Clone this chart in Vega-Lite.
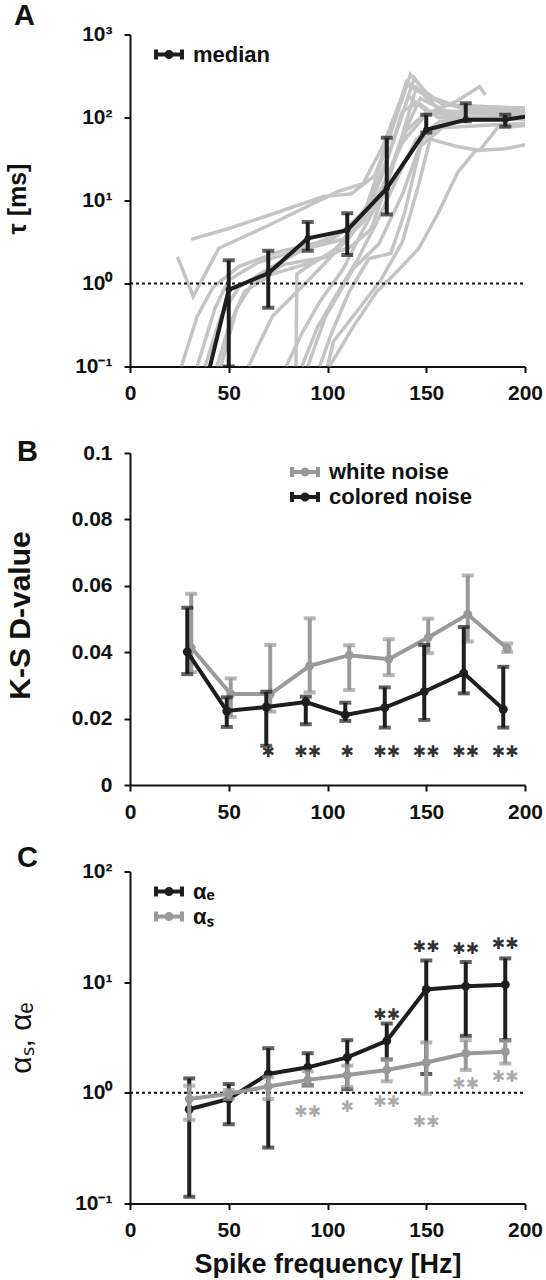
{
  "$schema": "https://vega.github.io/schema/vega-lite/v6.json",
  "padding": {"left": 5, "top": 1.5, "right": 0, "bottom": 0},
  "bounds": "flush",
  "spacing": 86.5,
  "resolve": {"scale": {"color": "independent"}, "legend": {"color": "independent"}},
  "config": {
    "font": "Liberation Sans",
    "view": {"stroke": null},
    "axis": {
      "grid": false, "domainColor": "#111", "domainWidth": 2, "tickColor": "#111", "tickWidth": 2, "tickSize": 6,
      "labelFont": "Liberation Sans", "labelFontWeight": "bold", "labelFontSize": 21, "labelColor": "#111",
      "titleColor": "#111", "titleFont": "Liberation Sans", "labelFlush": false, "labelOverlap": false
    },
    "axisX": {"labelPadding": 10, "labelAngle": 0},
    "axisY": {"labelPadding": 12},
    "legend": {
      "labelFont": "Liberation Sans", "labelFontWeight": "bold", "labelFontSize": 22, "labelColor": "#111",
      "symbolStrokeWidth": 4, "symbolSize": 400, "symbolOpacity": 1, "labelOffset": 12, "padding": 0, "rowPadding": -1,
      "symbolType": "M-1.3,0H1.3M-1.3,-0.5V0.5M1.3,-0.5V0.5M-0.25,0a0.25,0.25 0 1,0 0.5,0a0.25,0.25 0 1,0 -0.5,0"
    },
    "title": {"font": "Liberation Sans", "fontSize": 29, "fontWeight": "bold", "color": "#111", "anchor": "start", "frame": "group", "offset": 0, "baseline": "alphabetic"}
  },
  "datasets": {
    "tauCurves": [
      {"c":1,"f":31,"t":3.4},{"c":1,"f":50,"t":4.6},{"c":1,"f":70,"t":6.6},{"c":1,"f":98,"t":11.2},{"c":1,"f":112,"t":12},{"c":1,"f":124,"t":20},{"c":1,"f":134,"t":90},{"c":1,"f":142,"t":330},{"c":1,"f":150,"t":200},{"c":1,"f":158,"t":145},{"c":1,"f":175,"t":130},{"c":1,"f":200,"t":125},
      {"c":2,"f":24,"t":2.1},{"c":2,"f":32,"t":0.7},{"c":2,"f":45,"t":2.66},{"c":2,"f":70,"t":5},{"c":2,"f":105,"t":12.8},{"c":2,"f":118,"t":16},{"c":2,"f":128,"t":45},{"c":2,"f":140,"t":250},{"c":2,"f":147,"t":200},{"c":2,"f":160,"t":140},{"c":2,"f":200,"t":130},
      {"c":3,"f":26,"t":0.1},{"c":3,"f":34,"t":0.4},{"c":3,"f":42,"t":0.9},{"c":3,"f":55,"t":1.6},{"c":3,"f":75,"t":2.4},{"c":3,"f":95,"t":3.1},{"c":3,"f":112,"t":4.6},{"c":3,"f":124,"t":12},{"c":3,"f":136,"t":80},{"c":3,"f":144,"t":300},{"c":3,"f":152,"t":170},{"c":3,"f":170,"t":125},{"c":3,"f":200,"t":120},
      {"c":4,"f":34,"t":0.1},{"c":4,"f":43,"t":0.5},{"c":4,"f":50,"t":1.1},{"c":4,"f":65,"t":1.8},{"c":4,"f":85,"t":2.5},{"c":4,"f":108,"t":3.4},{"c":4,"f":120,"t":8},{"c":4,"f":131,"t":35},{"c":4,"f":141,"t":180},{"c":4,"f":150,"t":120},{"c":4,"f":170,"t":100},{"c":4,"f":200,"t":105},
      {"c":5,"f":46,"t":0.1},{"c":5,"f":54,"t":0.5},{"c":5,"f":62,"t":1.0},{"c":5,"f":78,"t":1.7},{"c":5,"f":100,"t":2.1},{"c":5,"f":114,"t":4.5},{"c":5,"f":127,"t":18},{"c":5,"f":138,"t":120},{"c":5,"f":146,"t":150},{"c":5,"f":156,"t":100},{"c":5,"f":200,"t":95},
      {"c":6,"f":44,"t":0.1},{"c":6,"f":50,"t":0.3},{"c":6,"f":58,"t":0.8},{"c":6,"f":72,"t":1.3},{"c":6,"f":92,"t":1.8},{"c":6,"f":112,"t":2.8},{"c":6,"f":122,"t":4.5},{"c":6,"f":133,"t":25},{"c":6,"f":145,"t":230},{"c":6,"f":158,"t":115},{"c":6,"f":200,"t":110},
      {"c":7,"f":79,"t":0.1},{"c":7,"f":87,"t":0.25},{"c":7,"f":96,"t":0.6},{"c":7,"f":108,"t":1.5},{"c":7,"f":117,"t":4},{"c":7,"f":127,"t":11},{"c":7,"f":138,"t":60},{"c":7,"f":147,"t":170},{"c":7,"f":160,"t":120},{"c":7,"f":180,"t":115},{"c":7,"f":200,"t":115},
      {"c":8,"f":84,"t":0.1},{"c":8,"f":84.5,"t":1.3},{"c":8,"f":90,"t":1.6},{"c":8,"f":104,"t":2.6},{"c":8,"f":118,"t":5.5},{"c":8,"f":129,"t":16},{"c":8,"f":140,"t":70},{"c":8,"f":150,"t":115},{"c":8,"f":175,"t":100},{"c":8,"f":200,"t":100},
      {"c":9,"f":87,"t":0.1},{"c":9,"f":95,"t":0.3},{"c":9,"f":104,"t":0.7},{"c":9,"f":115,"t":1.9},{"c":9,"f":125,"t":5.5},{"c":9,"f":135,"t":18},{"c":9,"f":145,"t":55},{"c":9,"f":157,"t":90},{"c":9,"f":180,"t":95},{"c":9,"f":200,"t":100},
      {"c":10,"f":96,"t":0.1},{"c":10,"f":102,"t":0.25},{"c":10,"f":111,"t":0.8},{"c":10,"f":121,"t":2},{"c":10,"f":132,"t":2.3},{"c":10,"f":139,"t":7},{"c":10,"f":147,"t":45},{"c":10,"f":158,"t":75},{"c":10,"f":178,"t":80},{"c":10,"f":200,"t":85},
      {"c":11,"f":101,"t":0.1},{"c":11,"f":113,"t":0.3},{"c":11,"f":125,"t":0.8},{"c":11,"f":134,"t":1.3},{"c":11,"f":146,"t":2.6},{"c":11,"f":156,"t":7},{"c":11,"f":166,"t":22},{"c":11,"f":175,"t":40},{"c":11,"f":190,"t":42},{"c":11,"f":200,"t":47},
      {"c":12,"f":100,"t":0.1},{"c":12,"f":103,"t":0.2},{"c":12,"f":116,"t":0.5},{"c":12,"f":127,"t":1.1},{"c":12,"f":138,"t":3.2},{"c":12,"f":146,"t":15},{"c":12,"f":152,"t":55},{"c":12,"f":165,"t":45},{"c":12,"f":177,"t":40},{"c":12,"f":186,"t":75},{"c":12,"f":200,"t":80},
      {"c":13,"f":60,"t":0.1},{"c":13,"f":72,"t":0.4},{"c":13,"f":92,"t":1.2},{"c":13,"f":112,"t":3.8},{"c":13,"f":126,"t":12},{"c":13,"f":138,"t":50},{"c":13,"f":150,"t":110},{"c":13,"f":166,"t":160},{"c":13,"f":177,"t":236},{"c":13,"f":180,"t":187},
      {"c":14,"f":90,"t":0.1},{"c":14,"f":99,"t":0.4},{"c":14,"f":113,"t":1.5},{"c":14,"f":126,"t":3},{"c":14,"f":138,"t":12},{"c":14,"f":148,"t":55},{"c":14,"f":160,"t":90},{"c":14,"f":178,"t":95},{"c":14,"f":200,"t":110},
      {"c":15,"f":38,"t":0.1},{"c":15,"f":46,"t":0.4},{"c":15,"f":55,"t":0.9},{"c":15,"f":68,"t":1.4},{"c":15,"f":84,"t":2.3},{"c":15,"f":104,"t":3.6},{"c":15,"f":119,"t":7.5},{"c":15,"f":130,"t":45},{"c":15,"f":140,"t":270},{"c":15,"f":149,"t":190},{"c":15,"f":164,"t":140},{"c":15,"f":200,"t":128}
    ],
    "tauMedian": [
      {"s":"median","f":40.5,"t":0.1,"lo":null,"hi":null},
      {"s":"median","f":50,"t":0.84,"lo":0.1,"hi":1.9},
      {"s":"median","f":70,"t":1.33,"lo":0.51,"hi":2.48},
      {"s":"median","f":90,"t":3.5,"lo":2.48,"hi":5.5},
      {"s":"median","f":110,"t":4.4,"lo":2.2,"hi":7.0},
      {"s":"median","f":130,"t":14,"lo":6.8,"hi":57},
      {"s":"median","f":150,"t":71,"lo":66,"hi":108},
      {"s":"median","f":170,"t":94,"lo":90,"hi":149},
      {"s":"median","f":190,"t":94,"lo":78,"hi":108},
      {"s":"median","f":200,"t":102,"lo":null,"hi":null}
    ],
    "ks": [
      {"s":"white noise","f":31,"d":0.0414,"lo":0.034,"hi":0.0576},
      {"s":"white noise","f":51,"d":0.0274,"lo":0.0205,"hi":0.0321},
      {"s":"white noise","f":71,"d":0.0274,"lo":0.0221,"hi":0.0422},
      {"s":"white noise","f":91,"d":0.0359,"lo":0.0279,"hi":0.0502},
      {"s":"white noise","f":111,"d":0.0391,"lo":0.0286,"hi":0.0421},
      {"s":"white noise","f":131,"d":0.0379,"lo":0.0331,"hi":0.0439},
      {"s":"white noise","f":151,"d":0.0444,"lo":0.0397,"hi":0.0501},
      {"s":"white noise","f":171,"d":0.0514,"lo":0.0432,"hi":0.0631},
      {"s":"white noise","f":191,"d":0.0411,"lo":0.0401,"hi":0.0426},
      {"s":"colored noise","f":29,"d":0.0401,"lo":0.0334,"hi":0.0534},
      {"s":"colored noise","f":49,"d":0.0223,"lo":0.0175,"hi":0.0264},
      {"s":"colored noise","f":69,"d":0.0235,"lo":0.0118,"hi":0.0281},
      {"s":"colored noise","f":89,"d":0.025,"lo":0.0183,"hi":0.0266},
      {"s":"colored noise","f":109,"d":0.0211,"lo":0.0193,"hi":0.0248},
      {"s":"colored noise","f":129,"d":0.0233,"lo":0.0173,"hi":0.0294},
      {"s":"colored noise","f":149,"d":0.0281,"lo":0.0196,"hi":0.0422},
      {"s":"colored noise","f":169,"d":0.0337,"lo":0.0276,"hi":0.0476},
      {"s":"colored noise","f":189,"d":0.0228,"lo":0.0173,"hi":0.0356}
    ],
    "ksStars": [
      {"f":70,"d":0.0098,"m":"✱"},{"f":90,"d":0.0098,"m":"✱✱"},{"f":110,"d":0.0098,"m":"✱"},
      {"f":130,"d":0.0098,"m":"✱✱"},{"f":150,"d":0.0098,"m":"✱✱"},{"f":170,"d":0.0098,"m":"✱✱"},{"f":190,"d":0.0098,"m":"✱✱"}
    ],
    "alpha": [
      {"s":"αₑ","f":30,"a":0.71,"lo":0.115,"hi":1.35},
      {"s":"αₑ","f":50,"a":0.88,"lo":0.52,"hi":1.2},
      {"s":"αₑ","f":70,"a":1.48,"lo":0.32,"hi":2.53},
      {"s":"αₑ","f":90,"a":1.7,"lo":1.17,"hi":2.28},
      {"s":"αₑ","f":110,"a":2.09,"lo":1.08,"hi":2.99},
      {"s":"αₑ","f":130,"a":2.95,"lo":2.0,"hi":4.23},
      {"s":"αₑ","f":150,"a":8.6,"lo":1.48,"hi":15.7},
      {"s":"αₑ","f":170,"a":9.2,"lo":3.27,"hi":15.2},
      {"s":"αₑ","f":190,"a":9.5,"lo":3.0,"hi":16.4},
      {"s":"αₛ","f":30,"a":0.88,"lo":0.57,"hi":1.16},
      {"s":"αₛ","f":50,"a":0.98,"lo":0.88,"hi":1.06},
      {"s":"αₛ","f":70,"a":1.14,"lo":0.88,"hi":1.38},
      {"s":"αₛ","f":90,"a":1.31,"lo":1.16,"hi":1.56},
      {"s":"αₛ","f":110,"a":1.45,"lo":1.13,"hi":1.76},
      {"s":"αₛ","f":130,"a":1.61,"lo":1.27,"hi":2.02},
      {"s":"αₛ","f":150,"a":1.88,"lo":0.98,"hi":2.85},
      {"s":"αₛ","f":170,"a":2.27,"lo":1.61,"hi":2.99},
      {"s":"αₛ","f":190,"a":2.35,"lo":1.84,"hi":2.95}
    ],
    "alphaStars": [
      {"g":"dark","f":130,"a":5.1,"m":"✱✱"},{"g":"dark","f":150,"a":21,"m":"✱✱"},{"g":"dark","f":170,"a":20,"m":"✱✱"},{"g":"dark","f":190,"a":22,"m":"✱✱"},
      {"g":"light","f":90,"a":0.67,"m":"✱✱"},{"g":"light","f":110,"a":0.74,"m":"✱"},{"g":"light","f":130,"a":0.83,"m":"✱✱"},
      {"g":"light","f":150,"a":0.55,"m":"✱✱"},{"g":"light","f":170,"a":1.2,"m":"✱✱"},{"g":"light","f":190,"a":1.38,"m":"✱✱"}
    ]
  },
  "vconcat": [
    {
      "width": 395, "height": 332,
      "title": {"text": "A", "dx": -116, "dy": 11},
      "layer": [
        {
          "data": {"name": "tauCurves"},
          "mark": {"type": "line", "color": "#c4c4c4", "strokeWidth": 3.5, "clip": true},
          "encoding": {
            "x": {"field": "f", "type": "quantitative", "scale": {"domain": [0, 200]}, "axis": {"values": [0, 50, 100, 150, 200], "title": null}},
            "y": {"field": "t", "type": "quantitative", "scale": {"type": "log", "domain": [0.1, 1000]},
                  "axis": {"values": [0.1, 1, 10, 100, 1000], "title": "τ [ms]", "titleFontSize": 25, "titleFontWeight": "bold", "titleAngle": -90, "titleX": -105, "titleY": 164, "titleBaseline": "alphabetic", "titleAlign": "center",
                           "labelExpr": "datum.value >= 999 ? '10³' : datum.value >= 99 ? '10²' : datum.value >= 9 ? '10¹' : datum.value >= 0.9 ? '10⁰' : '10⁻¹'"}},
            "detail": {"field": "c", "type": "nominal"}
          }
        },
        {
          "data": {"values": [{"one": 1}]},
          "mark": {"type": "rule", "color": "#111", "strokeWidth": 2, "strokeDash": [3, 3]},
          "encoding": {"y": {"field": "one", "type": "quantitative"}, "x": {"datum": 0}, "x2": {"datum": 200}}
        },
        {
          "data": {"name": "tauMedian"},
          "encoding": {
            "x": {"field": "f", "type": "quantitative"},
            "color": {"field": "s", "type": "nominal", "scale": {"domain": ["median"], "range": ["#1e1e1e"]},
                      "legend": {"orient": "none", "legendX": 27, "legendY": 8, "title": null}}
          },
          "layer": [
            {"mark": {"type": "line", "strokeWidth": 4, "clip": true}, "encoding": {"y": {"field": "t", "type": "quantitative"}}},
            {"transform": [{"filter": "datum.lo != null"}], "mark": {"type": "rule", "strokeWidth": 4, "clip": true}, "encoding": {"y": {"field": "lo", "type": "quantitative"}, "y2": {"field": "hi"}}},
            {"transform": [{"filter": "datum.lo != null"}], "mark": {"type": "tick", "orient": "horizontal", "size": 12, "thickness": 4, "clip": true}, "encoding": {"y": {"field": "hi", "type": "quantitative"}}},
            {"transform": [{"filter": "datum.lo != null"}], "mark": {"type": "tick", "orient": "horizontal", "size": 12, "thickness": 4, "clip": true}, "encoding": {"y": {"field": "lo", "type": "quantitative"}}},
            {"transform": [{"filter": "datum.lo != null"}], "mark": {"type": "point", "filled": true, "opacity": 1, "size": 40, "clip": true}, "encoding": {"y": {"field": "t", "type": "quantitative"}}}
          ]
        }
      ]
    },
    {
      "width": 395, "height": 332,
      "title": {"text": "B", "dx": -113, "dy": 29},
      "layer": [
        {
          "data": {"name": "ks"},
          "encoding": {
            "x": {"field": "f", "type": "quantitative", "scale": {"domain": [0, 200]}, "axis": {"values": [0, 50, 100, 150, 200], "title": null}},
            "color": {"field": "s", "type": "nominal", "scale": {"domain": ["white noise", "colored noise"], "range": ["#999999", "#1e1e1e"]},
                      "legend": {"orient": "none", "legendX": 163, "legendY": 7, "title": null}}
          },
          "layer": [
            {
              "transform": [{"filter": "datum.s === 'white noise'"}],
              "layer": [
                {"mark": {"type": "line", "strokeWidth": 4}, "encoding": {"y": {"field": "d", "type": "quantitative", "scale": {"domain": [0, 0.1]},
                   "axis": {"values": [0, 0.02, 0.04, 0.06, 0.08, 0.1], "format": "~g", "title": "K-S D-value", "titleFontSize": 30, "titleFontWeight": "bold", "titleAngle": -90, "titleX": -101, "titleY": 162, "titleBaseline": "alphabetic", "titleAlign": "center"}}}},
                {"mark": {"type": "rule", "strokeWidth": 4}, "encoding": {"y": {"field": "lo", "type": "quantitative"}, "y2": {"field": "hi"}}},
                {"mark": {"type": "tick", "orient": "horizontal", "size": 12, "thickness": 4}, "encoding": {"y": {"field": "hi", "type": "quantitative"}}},
                {"mark": {"type": "tick", "orient": "horizontal", "size": 12, "thickness": 4}, "encoding": {"y": {"field": "lo", "type": "quantitative"}}},
                {"mark": {"type": "point", "filled": true, "opacity": 1, "size": 80}, "encoding": {"y": {"field": "d", "type": "quantitative"}}}
              ]
            },
            {
              "transform": [{"filter": "datum.s === 'colored noise'"}],
              "layer": [
                {"mark": {"type": "line", "strokeWidth": 4}, "encoding": {"y": {"field": "d", "type": "quantitative"}}},
                {"mark": {"type": "rule", "strokeWidth": 4}, "encoding": {"y": {"field": "lo", "type": "quantitative"}, "y2": {"field": "hi"}}},
                {"mark": {"type": "tick", "orient": "horizontal", "size": 12, "thickness": 4}, "encoding": {"y": {"field": "hi", "type": "quantitative"}}},
                {"mark": {"type": "tick", "orient": "horizontal", "size": 12, "thickness": 4}, "encoding": {"y": {"field": "lo", "type": "quantitative"}}},
                {"mark": {"type": "point", "filled": true, "opacity": 1, "size": 80}, "encoding": {"y": {"field": "d", "type": "quantitative"}}}
              ]
            }
          ]
        },
        {
          "data": {"name": "ksStars"},
          "mark": {"type": "text", "font": "DejaVu Sans", "fontSize": 16, "fontWeight": "bold", "baseline": "middle", "align": "center"},
          "encoding": {"x": {"field": "f", "type": "quantitative"}, "y": {"field": "d", "type": "quantitative"}, "text": {"field": "m"}, "color": {"value": "#333333"}}
        }
      ]
    },
    {
      "width": 395, "height": 332,
      "title": {"text": "C", "dx": -113, "dy": 16},
      "layer": [
        {
          "data": {"values": [{"one": 1}]},
          "mark": {"type": "rule", "color": "#111", "strokeWidth": 2, "strokeDash": [3, 3]},
          "encoding": {
            "y": {"field": "one", "type": "quantitative", "scale": {"type": "log", "domain": [0.1, 100]},
                  "axis": {"values": [0.1, 1, 10, 100], "title": "αₛ, αₑ", "titleFontSize": 30, "titleFontWeight": "normal", "titleAngle": -90, "titleX": -100, "titleY": 166, "titleBaseline": "alphabetic", "titleAlign": "center",
                           "labelExpr": "datum.value >= 99 ? '10²' : datum.value >= 9 ? '10¹' : datum.value >= 0.9 ? '10⁰' : '10⁻¹'"}},
            "x": {"datum": 0, "type": "quantitative", "scale": {"domain": [0, 200]},
                  "axis": {"values": [0, 50, 100, 150, 200], "title": "Spike frequency [Hz]", "titleFontSize": 27, "titleFontWeight": "bold", "titleX": 197.5, "titleY": 69, "titleBaseline": "alphabetic", "titleAlign": "center"}},
            "x2": {"datum": 200}
          }
        },
        {
          "data": {"name": "alpha"},
          "encoding": {
            "x": {"field": "f", "type": "quantitative"},
            "color": {"field": "s", "type": "nominal", "scale": {"domain": ["αₑ", "αₛ"], "range": ["#1e1e1e", "#999999"]},
                      "legend": {"orient": "none", "legendX": 27, "legendY": 8, "title": null}}
          },
          "layer": [
            {
              "transform": [{"filter": "datum.s === 'αₑ'"}],
              "layer": [
                {"mark": {"type": "line", "strokeWidth": 4}, "encoding": {"y": {"field": "a", "type": "quantitative"}}},
                {"mark": {"type": "rule", "strokeWidth": 4}, "encoding": {"y": {"field": "lo", "type": "quantitative"}, "y2": {"field": "hi"}}},
                {"mark": {"type": "tick", "orient": "horizontal", "size": 12, "thickness": 4}, "encoding": {"y": {"field": "hi", "type": "quantitative"}}},
                {"mark": {"type": "tick", "orient": "horizontal", "size": 12, "thickness": 4}, "encoding": {"y": {"field": "lo", "type": "quantitative"}}},
                {"mark": {"type": "point", "filled": true, "opacity": 1, "size": 80}, "encoding": {"y": {"field": "a", "type": "quantitative"}}}
              ]
            },
            {
              "transform": [{"filter": "datum.s === 'αₛ'"}],
              "layer": [
                {"mark": {"type": "line", "strokeWidth": 4}, "encoding": {"y": {"field": "a", "type": "quantitative"}}},
                {"mark": {"type": "rule", "strokeWidth": 4}, "encoding": {"y": {"field": "lo", "type": "quantitative"}, "y2": {"field": "hi"}}},
                {"mark": {"type": "tick", "orient": "horizontal", "size": 12, "thickness": 4}, "encoding": {"y": {"field": "hi", "type": "quantitative"}}},
                {"mark": {"type": "tick", "orient": "horizontal", "size": 12, "thickness": 4}, "encoding": {"y": {"field": "lo", "type": "quantitative"}}},
                {"mark": {"type": "point", "filled": true, "opacity": 1, "size": 80}, "encoding": {"y": {"field": "a", "type": "quantitative"}}}
              ]
            }
          ]
        },
        {
          "data": {"name": "alphaStars"},
          "mark": {"type": "text", "font": "DejaVu Sans", "fontSize": 16, "fontWeight": "bold", "baseline": "middle", "align": "center"},
          "encoding": {"x": {"field": "f", "type": "quantitative"}, "y": {"field": "a", "type": "quantitative"}, "text": {"field": "m"},
                       "color": {"condition": {"test": "datum.g === 'light'", "value": "#aaaaaa"}, "value": "#333333"}}
        }
      ]
    }
  ]
}
